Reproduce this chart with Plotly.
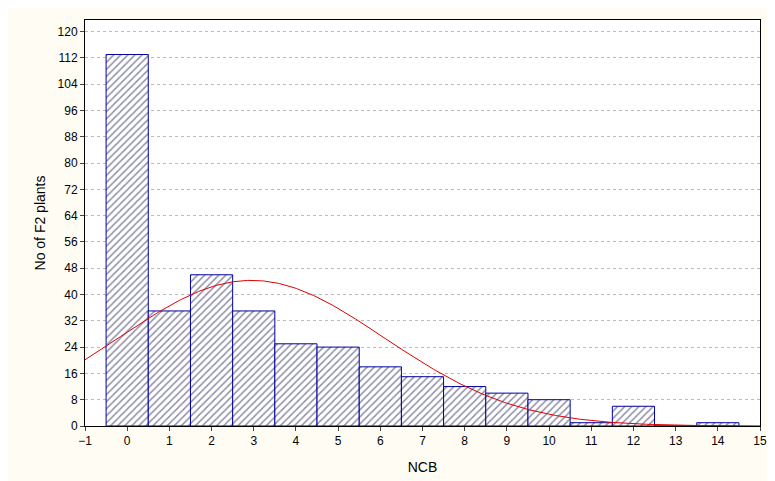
import numpy as np
import plotly.graph_objects as go

ncb = list(range(15))
counts = [113, 35, 46, 35, 25, 24, 18, 15, 12, 10, 8, 1, 6, 0, 1]
y_ticks = list(range(0, 121, 8))
x_ticks = list(range(-1, 16))

x = np.array(ncb); f = np.array(counts)
n = f.sum(); mu = (x * f).sum() / n
sd = np.sqrt(((x - mu) ** 2 * f).sum() / n)
xs = np.linspace(-1, 15, 400)
ys = n * np.exp(-0.5 * ((xs - mu) / sd) ** 2) / (sd * np.sqrt(2 * np.pi))

fig = go.Figure()
fig.add_bar(x=ncb, y=counts, width=1, marker=dict(color="white",
            line=dict(color="#0000A0", width=1),
            pattern=dict(shape="/", fgcolor="#202050", size=5, solidity=0.3)))
fig.add_scatter(x=xs, y=ys, mode="lines", line=dict(color="#E00000", width=1))
fig.update_layout(width=775, height=481, showlegend=False,
                  paper_bgcolor="#FFFDF3", plot_bgcolor="white",
                  margin=dict(l=77, r=23, t=12, b=63, autoexpand=False),
                  font=dict(family="Liberation Sans", size=12, color="black"))
fig.update_xaxes(range=[-1, 15], tickvals=x_ticks, showgrid=False, zeroline=False,
                 title=dict(text="NCB", standoff=14), mirror=True, showline=True,
                 linecolor="black", ticks="outside", ticklen=4, automargin=False)
fig.update_yaxes(range=[0, 123.5], tickvals=y_ticks, showgrid=True, gridcolor="#bbbbbb",
                 griddash="dot", zeroline=False, title=dict(text="No of F2 plants", standoff=8),
                 mirror=True, showline=True, linecolor="black", ticks="outside", ticklen=4,
                 automargin=False)
fig.write_html("out.html")
